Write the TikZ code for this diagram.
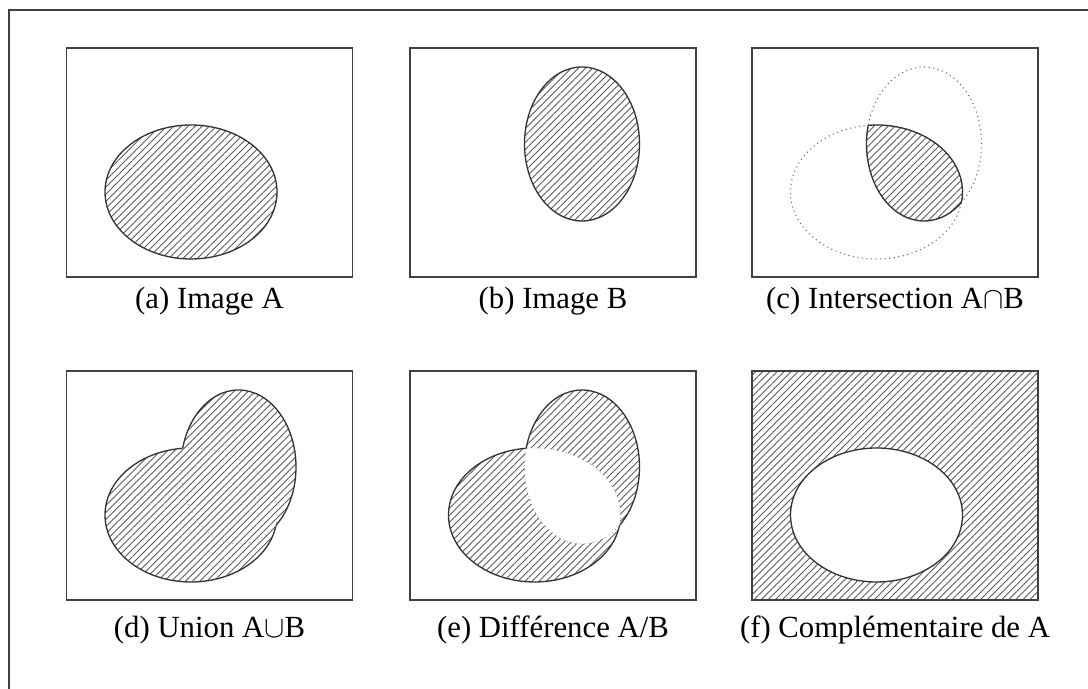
\documentclass[tikz,border=0pt]{standalone}
\usepackage{fontspec}
\setmainfont{Liberation Serif}
\usetikzlibrary{patterns.meta,positioning}

% ellipses A et B, cadre d'une vignette
\newcommand*{\ellA}{(2.49,1.70) ellipse [x radius=1.72, y radius=1.34]}
\newcommand*{\ellB}{(3.44,2.66) ellipse [x radius=1.15, y radius=1.54]}
\newcommand*{\cadrebox}{(0,0) rectangle (5.72,4.58)}
\newcommand*{\grand}{(-1,-1) rectangle (7,6)}

\tikzset{
  cadre/.style={draw=black!75, line width=0.6pt},
  contour/.style={draw=black!80, line width=0.75pt},
  pointille/.style={draw=black!60, line width=0.6pt, dotted},
  interieur/.style={draw=black!40, line width=0.5pt, dotted},
  hachure/.style={pattern={Lines[angle=45, distance=0.1cm, line width=0.5pt]}, pattern color=black!65},
  legende/.style={font=\fontsize{17.5}{20}\selectfont, inner sep=0pt},
}

\begin{document}
\begin{tikzpicture}
        \useasboundingbox (0,0) rectangle (21.76,13.78);
        % Cadre exterieur
        \draw[cadre] (0.18,0) -- (0.18,13.58) -- (21.76,13.58);
        % (a) Image A
        \begin{scope}[shift={(1.33,8.24)}]
          \draw[cadre] \cadrebox;
          \draw[contour, hachure] \ellA;
          \node[legende] (lblA) at (2.86,-0.48) {(a) Image A};
        \end{scope}
        % (b) Image B
        \begin{scope}[shift={(8.20,8.24)}]
          \draw[cadre] \cadrebox;
          \draw[contour, hachure] \ellB;
          \node[legende] (lblB) at (2.86,-0.48) {(b) Image B};
        \end{scope}
        % (c) Intersection
        \begin{scope}[shift={(15.04,8.24)}]
          \draw[cadre] \cadrebox;
          \draw[pointille] \ellA;
          \draw[pointille] \ellB;
          \begin{scope}
            \clip \ellA;
            \fill[hachure] \ellB;
            \draw[contour] \ellB;
          \end{scope}
          \begin{scope}
            \clip \ellB;
            \draw[contour] \ellA;
          \end{scope}
          \node[legende] (lblC) at (2.86,-0.48) {(c) Intersection A$\cap$B};
        \end{scope}
        % (d) Union
        \begin{scope}[shift={(1.33,1.78)}]
          \draw[cadre] \cadrebox;
          \fill[hachure] \ellA \ellB;
          \begin{scope}[even odd rule]
            \clip \grand \ellB;
            \draw[contour] \ellA;
          \end{scope}
          \begin{scope}[even odd rule]
            \clip \grand \ellA;
            \draw[contour] \ellB;
          \end{scope}
          \begin{scope}
            \clip \ellB;
            \draw[interieur] \ellA;
          \end{scope}
          \begin{scope}
            \clip \ellA;
            \draw[interieur] \ellB;
          \end{scope}
          \node[legende] (lblD) at (2.86,-0.60) {(d) Union A$\cup$B};
        \end{scope}
        % (e) Difference
        \begin{scope}[shift={(8.20,1.78)}]
          \draw[cadre] \cadrebox;
          \fill[hachure, even odd rule] \ellA \ellB;
          \begin{scope}[even odd rule]
            \clip \grand \ellB;
            \draw[contour] \ellA;
          \end{scope}
          \begin{scope}[even odd rule]
            \clip \grand \ellA;
            \draw[contour] \ellB;
          \end{scope}
          \begin{scope}
            \clip \ellB;
            \draw[interieur] \ellA;
          \end{scope}
          \begin{scope}
            \clip \ellA;
            \draw[interieur] \ellB;
          \end{scope}
          \node[legende] (lblE) at (2.86,-0.60) {(e) Différence A/B};
        \end{scope}
        % (f) Complementaire
        \begin{scope}[shift={(15.04,1.78)}]
          \fill[hachure, even odd rule] \cadrebox \ellA;
          \draw[cadre] \cadrebox;
          \draw[contour] \ellA;
          \node[legende] (lblF) at (2.86,-0.60) {(f) Complémentaire de A};
        \end{scope}
      \end{tikzpicture}
\end{document}
